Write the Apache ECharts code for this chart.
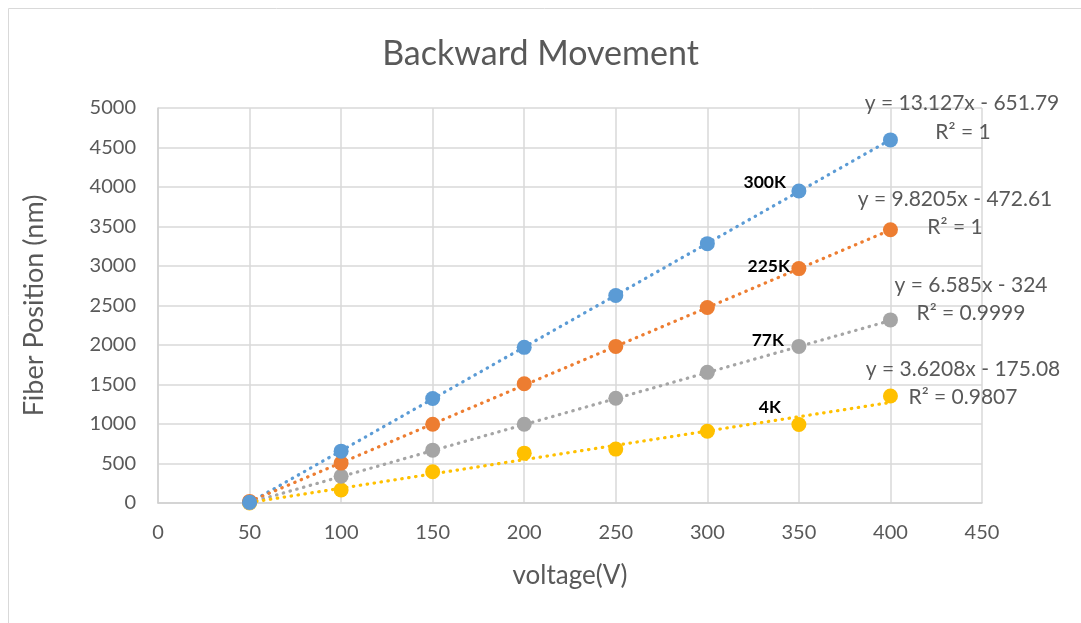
<!DOCTYPE html>
<html>
<head>
    <meta charset="utf-8">
    <title>Backward Movement</title>
    <script src="https://cdn.jsdelivr.net/npm/echarts@6/dist/echarts.min.js"></script>
    <style>
        body { margin: 0; background: #fff; }
    </style>
</head>
<body>
    <div id="main" style="width: 1081px;height:623px;"></div>

    <script type="text/javascript">
    // voltage (V)
    var voltage = [50, 100, 150, 200, 250, 300, 350, 400];
    // fiber position (nm)
    var k300 = [10, 656, 1322, 1970, 2626, 3283, 3950, 4596];
    var k225 = [20, 505, 997, 1510, 1982, 2475, 2967, 3458];
    var k77  = [5, 338, 669, 997, 1326, 1654, 1982, 2318];
    var k4   = [0, 164, 395, 631, 682, 909, 993, 1355];

    // trendline ends at 50 V and 400 V
    var trendX = [50, 400];
    var trend300 = [5, 4599];
    var trend225 = [18, 3456];
    var trend77  = [5, 2310];
    var trend4   = [6, 1273];

    var seriesNames = ['300K', '225K', '77K', '4K'];
    var equations = ['y = 13.127x - 651.79', 'y = 9.8205x - 472.61', 'y = 6.585x - 324', 'y = 3.6208x - 175.08'];
    var rSquared = ['R² = 1', 'R² = 1', 'R² = 0.9999', 'R² = 0.9807'];

    var colors = ['#5B9BD5', '#ED7D31', '#A5A5A5', '#FFC000'];
    var values = [k300, k225, k77, k4];
    var trends = [trend300, trend225, trend77, trend4];

    function pairs(xs, ys) {
        var res = [];
        for (var i = 0; i < xs.length; i++) {
            res.push([xs[i], ys[i]]);
        }
        return res;
    }

    var myChart = echarts.init(document.getElementById('main'));

    var series = [];
    // dotted trendlines go under the markers
    for (var i = 0; i < 4; i++) {
        series.push({
            name: seriesNames[i] + ' trend',
            type: 'line',
            data: pairs(trendX, trends[i]),
            showSymbol: false,
            silent: true,
            lineStyle: { color: colors[i], width: 3.2, type: [0.5, 6.5], cap: 'round' },
            z: 2
        });
    }
    for (var i = 3; i >= 0; i--) {
        series.push({
            name: seriesNames[i],
            type: 'scatter',
            data: pairs(voltage, values[i]),
            symbolSize: 15,
            itemStyle: { color: colors[i], opacity: 1 },
            z: 3
        });
    }

    var textColor = '#595959';
    var font = 'Lato, "Open Sans", sans-serif';

    // series labels (right edge, middle) and equation labels (centre)
    var tagPos = [[786, 182], [790, 266], [784, 340], [781, 407]];
    var eqPos = [[962, 103], [955, 199], [971, 285], [963, 369]];
    var rPos = [[963, 132], [955, 227], [971, 313], [963, 397]];

    var graphics = [
        { type: 'line', shape: { x1: 8.5, y1: 8.5, x2: 1081, y2: 8.5 }, style: { stroke: '#d9d9d9', lineWidth: 1 } },
        { type: 'line', shape: { x1: 8.5, y1: 8.5, x2: 8.5, y2: 623 }, style: { stroke: '#d9d9d9', lineWidth: 1 } }
    ];
    for (var i = 0; i < 4; i++) {
        graphics.push({
            type: 'text', x: tagPos[i][0], y: tagPos[i][1], z: 10,
            style: { text: seriesNames[i], fill: '#000', font: 'bold 17.5px ' + font, align: 'right', verticalAlign: 'middle' }
        });
        graphics.push({
            type: 'text', x: eqPos[i][0], y: eqPos[i][1], z: 10,
            style: { text: equations[i], fill: textColor, font: '21px ' + font, align: 'center', verticalAlign: 'middle' }
        });
        graphics.push({
            type: 'text', x: rPos[i][0], y: rPos[i][1], z: 10,
            style: { text: rSquared[i], fill: textColor, font: '21px ' + font, align: 'center', verticalAlign: 'middle' }
        });
    }

    var option = {
        animation: false,
        title: {
            text: 'Backward Movement',
            left: 'center',
            top: 32,
            textStyle: { color: textColor, fontSize: 34, fontWeight: 'normal', fontFamily: font }
        },
        grid: { left: 158, right: 99, top: 108, bottom: 120 },
        xAxis: {
            type: 'value',
            min: 0, max: 450, interval: 50,
            name: 'voltage(V)',
            nameLocation: 'middle',
            nameGap: 60,
            nameTextStyle: { color: textColor, fontSize: 26, fontFamily: font },
            axisLine: { lineStyle: { color: '#d0d0d0', width: 1.5 } },
            axisTick: { show: false },
            axisLabel: { color: textColor, fontSize: 20, fontFamily: font, margin: 20 },
            splitLine: { show: true, lineStyle: { color: '#d9d9d9', width: 1.5 } }
        },
        yAxis: {
            type: 'value',
            min: 0, max: 5000, interval: 500,
            name: 'Fiber Position (nm)',
            nameLocation: 'middle',
            nameGap: 110,
            nameTextStyle: { color: textColor, fontSize: 27, fontFamily: font },
            axisLine: { show: true, lineStyle: { color: '#d0d0d0', width: 1.5 } },
            axisTick: { show: false },
            axisLabel: { color: textColor, fontSize: 20, fontFamily: font, margin: 22, formatter: function (v) { return String(v); } },
            splitLine: { show: true, lineStyle: { color: '#d9d9d9', width: 1.5 } }
        },
        graphic: graphics,
        series: series
    };

    myChart.setOption(option);
    </script>
</body>
</html>
